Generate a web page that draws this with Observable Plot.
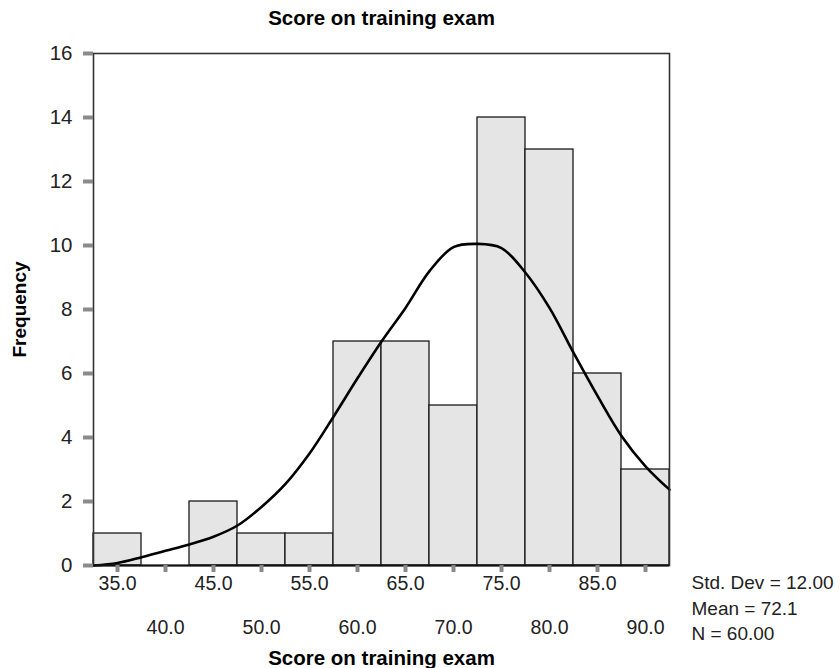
<!DOCTYPE html>
<html>
<head>
<meta charset="utf-8">
<script src="https://cdn.jsdelivr.net/npm/d3@7"></script>
<script src="https://cdn.jsdelivr.net/npm/@observablehq/plot@0.6"></script>
<style>
  html, body { margin: 0; padding: 0; background: #fff; }
  #chart svg { display: block; font-family: "Liberation Sans", Arial, sans-serif; }
</style>
</head>
<body>
<div id="chart"></div>
<script>
// ---- data ----
const binCenters = [35, 40, 45, 50, 55, 60, 65, 70, 75, 80, 85, 90];
const counts     = [1, 0, 2, 1, 1, 7, 7, 5, 14, 13, 6, 3];
const binWidth = 5;

// normal curve as drawn
const curveX = [32.5, 35, 37.5, 40, 42.5, 45, 47.5, 50, 52.5, 55, 57.5, 60, 62.5, 65, 67.5, 70, 72.5, 75, 77.5, 80, 82.5, 85, 87.5, 90, 92.5];
const curveY = [0.0, 0.08, 0.26, 0.46, 0.66, 0.9, 1.25, 1.83, 2.55, 3.5, 4.65, 5.85, 7.0, 8.05, 9.2, 9.95, 10.05, 9.92, 9.15, 8.05, 6.65, 5.3, 4.05, 3.1, 2.37];

const xTickRow1 = [35, 45, 55, 65, 75, 85];
const xTickRow2 = [40, 50, 60, 70, 80, 90];
const yTicks = [0, 2, 4, 6, 8, 10, 12, 14, 16];
const statsLines = ["Std. Dev = 12.00", "Mean = 72.1", "N = 60.00"];
const chartTitle = "Score on training exam";
const xLabel = "Score on training exam";
const yLabel = "Frequency";

// ---- tables built from the arrays ----
const bars = binCenters.map((c, i) => ({x1: c - binWidth / 2, x2: c + binWidth / 2, count: counts[i]})).filter(d => d.count > 0);
const curve = curveX.map((x, i) => ({x, y: curveY[i]}));
const row1 = xTickRow1.map(v => ({v, label: v.toFixed(1)}));
const row2 = xTickRow2.map(v => ({v, label: v.toFixed(1)}));

const font = "Liberation Sans, Arial, sans-serif";
const tickFont = 19.5;

const chart = Plot.plot({
  width: 840,
  height: 668,
  marginTop: 53,
  marginBottom: 103,
  marginLeft: 93,
  marginRight: 171,
  style: {fontFamily: font, background: "#fff"},
  x: {domain: [32.5, 92.5], nice: false},
  y: {domain: [0, 16], nice: false},
  marks: [
    Plot.rectY(bars, {x1: "x1", x2: "x2", y: "count", fill: "#e5e5e5", stroke: "#1a1a1a", strokeWidth: 1.3}),
    Plot.line(curve, {x: "x", y: "y", curve: "catmull-rom", stroke: "#000", strokeWidth: 2.6}),
    Plot.frame({stroke: "#333", strokeWidth: 1.6}),
    Plot.ruleY([0], {stroke: "#111", strokeWidth: 2}),
    // gray tick marks
    Plot.axisY({ticks: yTicks, tickSize: 10, stroke: "#8a8a8a", strokeWidth: 4, text: null, label: null}),
    Plot.axisX({ticks: binCenters, tickSize: 7, stroke: "#8a8a8a", strokeWidth: 4, text: null, label: null}),
    // y tick labels
    Plot.axisY({ticks: yTicks, tickSize: 0, tickPadding: 21, fontSize: 20.5, fill: "#222", label: null}),
    // x tick labels in two rows
    Plot.text(row1, {x: "v", text: "label", frameAnchor: "bottom", textAnchor: "middle", dy: 18, lineAnchor: "middle", fontSize: tickFont, fill: "#222"}),
    Plot.text(row2, {x: "v", text: "label", frameAnchor: "bottom", textAnchor: "middle", dy: 62, lineAnchor: "middle", fontSize: tickFont, fill: "#222"}),
    // titles
    Plot.text([chartTitle], {frameAnchor: "top", textAnchor: "middle", dy: -35, lineAnchor: "middle", fontSize: 20.5, fontWeight: "bold", fill: "#000"}),
    Plot.text([xLabel], {frameAnchor: "bottom", textAnchor: "middle", dy: 93, lineAnchor: "middle", fontSize: 20.5, fontWeight: "bold", fill: "#000"}),
    Plot.text([yLabel], {frameAnchor: "left", textAnchor: "middle", dx: -74, rotate: -90, lineAnchor: "middle", fontSize: 19, fontWeight: "bold", fill: "#000"}),
    // stats annotation
    Plot.text([statsLines.join("\n")], {frameAnchor: "bottom-right", textAnchor: "start", dx: 22, dy: 41, lineAnchor: "middle", lineHeight: 1.33, fontSize: 19, fill: "#222"})
  ]
});
document.getElementById("chart").appendChild(chart);
</script>
</body>
</html>
